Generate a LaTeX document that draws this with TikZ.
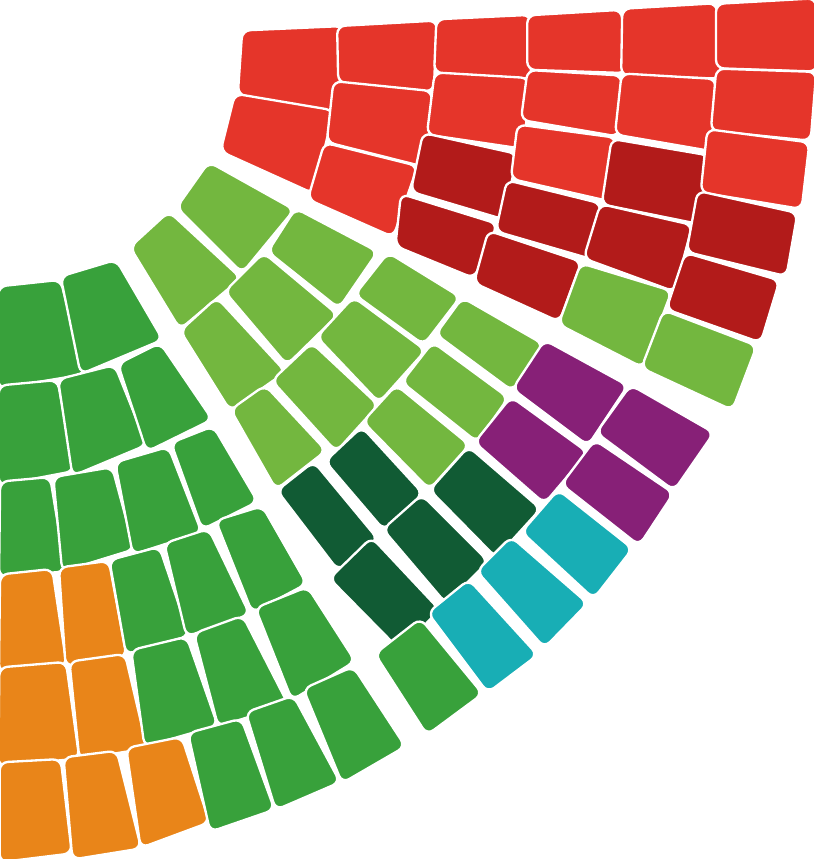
\documentclass[tikz,border=0pt]{standalone}
\usepackage{xcolor}
\usepackage{tikz}
\definecolor{seatred}{HTML}{E5352A}
\definecolor{seatdarkred}{HTML}{B21B1A}
\definecolor{seatlime}{HTML}{73B73F}
\definecolor{seatgreen}{HTML}{38A13B}
\definecolor{seatorange}{HTML}{E98519}
\definecolor{seatforest}{HTML}{115B34}
\definecolor{seatpurple}{HTML}{872077}
\definecolor{seatcyan}{HTML}{18AEB5}
\tikzset{
  seat/.style={rounded corners=0.24cm, draw=white, line width=0.07cm},
}
\newcommand{\seatquad}[9]{%
  \pgfmathsetmacro{\mx}{(#2+#4+#6+#8)/4}
  \pgfmathsetmacro{\my}{(#3+#5+#7+#9)/4}
  \filldraw[seat, fill=#1, scale around={1.11:(\mx,\my)}] (#2,#3) -- (#4,#5) -- (#6,#7) -- (#8,#9) -- cycle;
}
\begin{document}
\begin{tikzpicture}[x=0.03cm, y=-0.03cm]
\useasboundingbox (0,0) rectangle (814,859);
% left block
\foreach \c/\ax/\ay/\bx/\by/\cx/\cy/\dx/\dy in {
    seatgreen/2/291/58/285/80/370/2/383,
    seatgreen/65/280/115/265/157/337/83/368,
    seatgreen/2/390/55/385/70/467/2/480,
    seatgreen/62/383/113/370/142/442/75/470,
    seatgreen/122/367/160/348/207/417/148/446,
    seatgreen/3/486/48/482/62/567/2/572,
    seatgreen/57/481/110/472/130/546/65/566,
    seatgreen/119/466/167/452/197/529/135/549,
    seatgreen/175/446/213/431/253/499/203/524,
    seatorange/3/579/50/574/63/661/2/667,
    seatorange/62/572/107/566/123/652/68/661,
    seatgreen/113/564/158/552/185/632/128/649,
    seatgreen/168/547/208/534/245/611/188/631,
    seatgreen/220/524/262/511/302/581/253/607,
    seatorange/3/672/63/667/75/754/2/761,
    seatorange/73/666/123/659/143/744/82/754,
    seatgreen/135/654/185/642/213/722/147/741,
    seatgreen/198/637/242/621/283/701/220/721,
    seatgreen/260/611/307/592/350/659/293/694,
    seatorange/3/767/58/764/68/849/3/857,
    seatorange/67/762/115/756/137/844/75/854,
    seatorange/130/752/180/742/205/819/143/842,
    seatgreen/192/737/240/724/270/806/212/826,
    seatgreen/250/716/293/701/335/779/277/804,
    seatgreen/308/692/353/672/400/744/343/777} {
    \seatquad{\c}{\ax}{\ay}{\bx}{\by}{\cx}{\cy}{\dx}{\dy}
}
% middle block
\foreach \c/\ax/\ay/\bx/\by/\cx/\cy/\dx/\dy in {
    seatlime/211/167/288/210/241/267/182/208,
    seatlime/170/217/235/277/180/323/135/249,
    seatlime/298/213/372/252/337/303/273/252,
    seatlime/265/258/332/314/286/359/230/293,
    seatlime/218/303/280/370/230/405/185/333,
    seatlime/390/257/455/297/422/340/360/295,
    seatlime/355/302/420/350/378/397/322/338,
    seatlime/313/348/373/404/335/446/277/382,
    seatlime/266/390/321/449/276/484/235/412,
    seatlime/398/390/464/444/428/484/368/423,
    seatlime/435/347/503/397/475/437/407/383,
    seatlime/465/302/538/344/510/386/441/335,
    seatforest/315/467/373/537/337/565/282/493,
    seatforest/363/432/418/492/383/525/330/463,
    seatforest/373/543/434/608/399/645/335/580,
    seatforest/423/500/483/560/445/598/388/531,
    seatforest/470/452/535/508/495/552/435/491,
    seatpurple/547/345/622/386/586/440/518/389,
    seatpurple/633/390/708/433/672/485/602/433,
    seatpurple/513/402/582/452/543/498/480/443,
    seatpurple/597/445/668/493/637/540/567/485,
    seatcyan/560/495/627/548/592/593/527/533,
    seatcyan/513/542/582/602/543/642/482/573,
    seatcyan/470/585/532/653/487/687/433/615,
    seatgreen/421/624/477/692/427/729/380/656} {
    \seatquad{\c}{\ax}{\ay}{\bx}{\by}{\cx}{\cy}{\dx}{\dy}
}
% right block
\foreach \c/\ax/\ay/\bx/\by/\cx/\cy/\dx/\dy in {
    seatred/247/34/338/30/333/108/243/92,
    seatred/342/29/432/24/429/88/343/80,
    seatred/441/22/526/18/526/76/439/70,
    seatred/532/18/617/13/621/70/532/67,
    seatred/627/12/712/7/716/75/626/72,
    seatred/721/7/811/2/812/68/721/65,
    seatred/239/98/328/113/310/188/226/150,
    seatred/338/85/427/94/423/163/332/140,
    seatred/439/76/524/81/520/145/432/132,
    seatred/532/73/617/78/614/133/526/118,
    seatred/626/77/711/82/707/147/620/132,
    seatred/721/72/811/75/806/137/716/128,
    seatred/328/147/412/168/390/232/313/198,
    seatdarkred/427/137/512/156/500/215/416/190,
    seatred/522/128/611/140/604/197/516/177,
    seatdarkred/616/143/704/158/696/220/607/202,
    seatred/712/133/804/145/797/205/706/190,
    seatdarkred/405/198/492/225/471/274/400/245,
    seatdarkred/511/184/596/205/587/255/501/230,
    seatdarkred/604/208/687/227/671/287/589/257,
    seatdarkred/702/195/792/215/782/272/692/250,
    seatdarkred/492/235/576/263/556/317/479/282,
    seatlime/584/268/666/293/640/362/564/323,
    seatdarkred/689/257/774/282/757/338/672/308,
    seatlime/667/315/751/347/729/405/647/367} {
    \seatquad{\c}{\ax}{\ay}{\bx}{\by}{\cx}{\cy}{\dx}{\dy}
}
\end{tikzpicture}
\end{document}
